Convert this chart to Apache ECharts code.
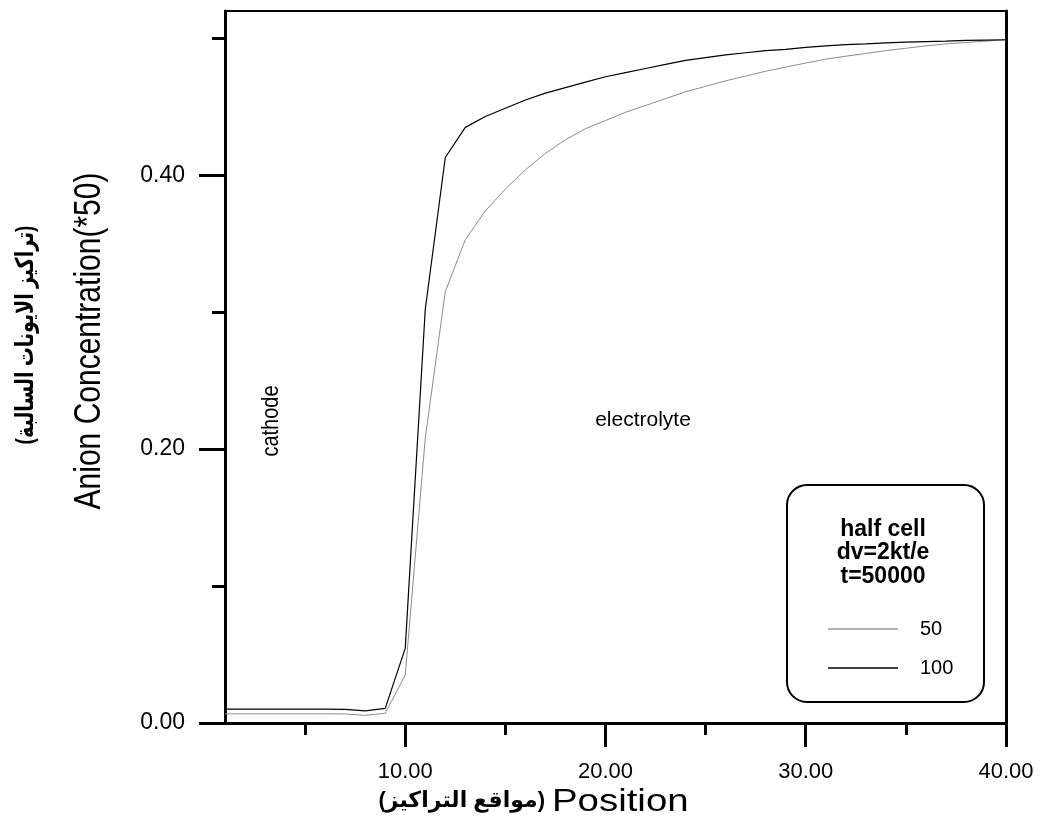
<!DOCTYPE html>
<html>
<head>
<meta charset="utf-8">
<script src="https://cdn.jsdelivr.net/npm/echarts@6/dist/echarts.min.js"></script>
<style>
  html, body { margin: 0; padding: 0; background: #fff; }
  #chart { width: 1041px; height: 823px; }
</style>
</head>
<body>
<div id="chart"></div>
<script>
// positions along the cell
const positions = [1, 2, 3, 4, 5, 6, 7, 8, 9, 10,
  11, 12, 13, 14, 15, 16, 17, 18, 19, 20,
  21, 22, 23, 24, 25, 26, 27, 28, 29, 30,
  31, 32, 33, 34, 35, 36, 37, 38, 39, 40];

// anion concentration (*50), curve "50" (grey)
const conc50 = [0.0067, 0.0067, 0.0067, 0.0067, 0.0067, 0.0067, 0.0066, 0.0056, 0.0071, 0.035,
  0.208, 0.315, 0.353, 0.374, 0.390, 0.404, 0.416, 0.426, 0.434, 0.440,
  0.446, 0.451, 0.456, 0.461, 0.465, 0.469, 0.4725, 0.476, 0.479, 0.482,
  0.4848, 0.487, 0.489, 0.491, 0.4928, 0.4945, 0.496, 0.497, 0.498, 0.499];

// curve "100" (black)
const conc100 = [0.0102, 0.0102, 0.0102, 0.0102, 0.0102, 0.0102, 0.0100, 0.0088, 0.0107, 0.0545,
  0.302, 0.413, 0.435, 0.443, 0.449, 0.455, 0.460, 0.464, 0.468, 0.472,
  0.475, 0.478, 0.481, 0.484, 0.486, 0.488, 0.4895, 0.491, 0.492, 0.4935,
  0.4945, 0.4955, 0.496, 0.4967, 0.4972, 0.4977, 0.498, 0.4985, 0.4988, 0.499];

const xMajorTicks = [10, 20, 30, 40];
const xMinorTicks = [5, 15, 25, 35];
const yMajorTicks = [0, 0.2, 0.4];
const yMinorTicks = [0.1, 0.3, 0.5];

const legendTitle = ['half cell', 'dv=2kt/e', 't=50000'];

const FONT = '"Liberation Sans", Arial, "DejaVu Sans", sans-serif';

const chart = echarts.init(document.getElementById('chart'));

function pairs(xs, ys) {
  return xs.map((x, i) => [x, ys[i]]);
}

const option = {
  backgroundColor: '#fff',
  animation: false,
  textStyle: { fontFamily: FONT },
  grid: { left: 225, right: 35, top: 11, bottom: 100 },
  xAxis: [
    {
      type: 'value', min: 1, max: 40, position: 'bottom',
      axisLine: { onZero: false, lineStyle: { color: '#000', width: 3 } },
      axisTick: { customValues: xMajorTicks, length: 24, lineStyle: { color: '#000', width: 3 } },
      axisLabel: {
        customValues: xMajorTicks, margin: 38, fontSize: 22, color: '#000', fontFamily: FONT,
        formatter: v => v.toFixed(2)
      },
      splitLine: { show: false }
    },
    {
      type: 'value', min: 1, max: 40, position: 'bottom',
      axisLine: { show: false, onZero: false },
      axisTick: { customValues: xMinorTicks, length: 12, lineStyle: { color: '#000', width: 3 } },
      axisLabel: { show: false },
      splitLine: { show: false }
    },
    {
      type: 'value', min: 1, max: 40, position: 'top',
      axisLine: { onZero: false, lineStyle: { color: '#000', width: 2 } },
      axisTick: { show: false },
      axisLabel: { show: false },
      splitLine: { show: false }
    }
  ],
  yAxis: [
    {
      type: 'value', min: 0, max: 0.52, position: 'left',
      axisLine: { show: true, onZero: false, lineStyle: { color: '#000', width: 3 } },
      axisTick: { show: true, customValues: yMajorTicks, length: 26, lineStyle: { color: '#000', width: 3 } },
      axisLabel: {
        customValues: yMajorTicks, margin: 40, fontSize: 23, color: '#000', fontFamily: FONT,
        formatter: v => v.toFixed(2)
      },
      splitLine: { show: false }
    },
    {
      type: 'value', min: 0, max: 0.52, position: 'left',
      axisLine: { show: false, onZero: false },
      axisTick: { show: true, customValues: yMinorTicks, length: 13, lineStyle: { color: '#000', width: 3 } },
      axisLabel: { show: false },
      splitLine: { show: false }
    },
    {
      type: 'value', min: 0, max: 0.52, position: 'right',
      axisLine: { show: true, onZero: false, lineStyle: { color: '#000', width: 3 } },
      axisTick: { show: false },
      axisLabel: { show: false },
      splitLine: { show: false }
    }
  ],
  legend: {
    data: ['50', '100'],
    orient: 'vertical',
    left: 823,
    top: 613,
    icon: 'rect',
    itemWidth: 70,
    itemHeight: 1.5,
    itemGap: 17,
    selectedMode: false,
    textStyle: { fontSize: 20, lineHeight: 22, color: '#000', fontFamily: FONT, padding: [0, 0, 0, 17] }
  },
  series: [
    {
      name: '50', type: 'line', data: pairs(positions, conc50),
      showSymbol: false, symbol: 'none',
      color: '#999',
      lineStyle: { color: '#8c8c8c', width: 1 },
      z: 2
    },
    {
      name: '100', type: 'line', data: pairs(positions, conc100),
      showSymbol: false, symbol: 'none',
      color: '#000',
      lineStyle: { color: '#000', width: 1.2 },
      z: 3
    }
  ],
  graphic: [
    {
      type: 'text', x: 90, y: 341, rotation: Math.PI / 2, scaleY: 1.2,
      style: { text: 'Anion Concentration(*50)', font: '30px ' + FONT, fill: '#000', align: 'center', verticalAlign: 'middle' }
    },
    {
      type: 'text', x: 26, y: 335, rotation: Math.PI / 2, scaleY: 1.3,
      style: { text: '(تراكيز الايونات السالبة)', font: 'bold 19px ' + FONT, fill: '#000', align: 'center', verticalAlign: 'middle' }
    },
    {
      type: 'text', x: 552, y: 802, scaleX: 1.2,
      style: { text: 'Position', font: '32px ' + FONT, fill: '#000', align: 'left', verticalAlign: 'middle' }
    },
    {
      type: 'text', x: 545, y: 801,
      style: { text: '(مواقع التراكيز)', font: 'bold 22px ' + FONT, fill: '#000', align: 'right', verticalAlign: 'middle' }
    },
    {
      type: 'text', x: 271, y: 421, rotation: Math.PI / 2, scaleY: 1.2,
      style: { text: 'cathode', font: '20px ' + FONT, fill: '#000', align: 'center', verticalAlign: 'middle' }
    },
    {
      type: 'text', x: 643, y: 420,
      style: { text: 'electrolyte', font: '21px ' + FONT, fill: '#000', align: 'center', verticalAlign: 'middle' }
    },
    {
      type: 'rect',
      shape: { x: 787, y: 485, width: 197, height: 217, r: 20 },
      style: { fill: 'transparent', stroke: '#000', lineWidth: 2 }
    },
    {
      type: 'text', x: 883, y: 530,
      style: { text: legendTitle[0], font: 'bold 23px ' + FONT, fill: '#000', align: 'center', verticalAlign: 'middle' }
    },
    {
      type: 'text', x: 883, y: 553,
      style: { text: legendTitle[1], font: 'bold 23px ' + FONT, fill: '#000', align: 'center', verticalAlign: 'middle' }
    },
    {
      type: 'text', x: 883, y: 577,
      style: { text: legendTitle[2], font: 'bold 23px ' + FONT, fill: '#000', align: 'center', verticalAlign: 'middle' }
    }
  ]
};

chart.setOption(option);

window.addEventListener('resize', function () {
  chart.resize();
});
</script>
</body>
</html>
